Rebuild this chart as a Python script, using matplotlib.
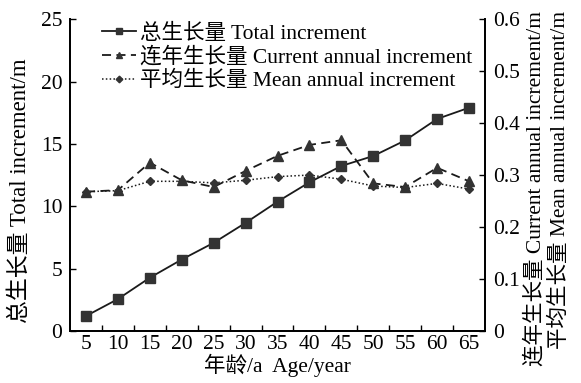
import matplotlib
matplotlib.use("Agg")
import matplotlib.pyplot as plt
import numpy as np

plt.rcParams['font.family'] = ['Liberation Serif', 'Noto Sans CJK SC']
plt.rcParams['font.size'] = 15.5

ages = [5, 10, 15, 20, 25, 30, 35, 40, 45, 50, 55, 60, 65]
total = [1.2, 2.56, 4.27, 5.73, 7.07, 8.67, 10.37, 11.92, 13.23, 14.03, 15.28, 17.0, 17.9]
current = [0.268, 0.271, 0.324, 0.290, 0.277, 0.308, 0.337, 0.358, 0.367, 0.284, 0.277, 0.314, 0.288]
mean = [0.268, 0.270, 0.288, 0.288, 0.285, 0.290, 0.297, 0.300, 0.292, 0.279, 0.276, 0.284, 0.273]

left_ticks = [0, 5, 10, 15, 20, 25]
right_ticks = [0, 0.1, 0.2, 0.3, 0.4, 0.5, 0.6]
right_labels = ['0', '0.1', '0.2', '0.3', '0.4', '0.5', '0.6']

x = np.arange(len(ages))
c = '#1a1a1a'
mc = '#333333'

fig = plt.figure(figsize=(5.81, 3.83), dpi=100)
ax = fig.add_axes([0.1205, 0.1358, 0.7143, 0.8142])
ax2 = ax.twinx()

l1, = ax.plot(x, total, '-', color=c, lw=1.3, marker='s', ms=6.5, mfc=mc, mec=mc)
l2, = ax2.plot(x, current, color=c, lw=1.3, ls=(0, (5, 3)), marker='^', ms=6.5, mfc=mc, mec=mc)
l3, = ax2.plot(x, mean, color=c, lw=1.1, ls=(0, (1, 1.5)), marker='D', ms=4.5, mfc=mc, mec=mc)

ax.set_xlim(-0.5, len(ages) - 0.5)
ax.set_ylim(0, 25)
ax2.set_ylim(0, 0.6)

# tick marks sit between the age classes, labels at the class centres
ax.set_xticks(np.arange(0.5, len(ages) - 1, 1.0))
ax.set_xticklabels([])
ax.set_xticks(x, minor=True)
ax.set_xticklabels([str(a) for a in ages], minor=True)
ax.tick_params(axis='x', which='major', direction='in', length=4, width=1)
ax.tick_params(axis='x', which='minor', length=0, pad=3)

ax.set_yticks(left_ticks)
ax.tick_params(axis='y', direction='in', length=4, width=1, pad=5.5)
ax2.set_yticks(right_ticks)
ax2.set_yticklabels(right_labels)
ax2.tick_params(axis='y', direction='in', length=4, width=1, pad=5.5)

for a in (ax, ax2):
    a.spines['top'].set_visible(False)
    for s in ('left', 'right', 'bottom'):
        a.spines[s].set_linewidth(1.3)

ax.set_xlabel('年龄/a  Age/year', labelpad=0)
ax.set_ylabel('总生长量 Total increment/m', fontsize=16.5)
ax.yaxis.set_label_coords(-0.095, 0.45)
ax2.set_ylabel('连年生长量 Current annual increment/m\n平均生长量 Mean annual increment/m',
               multialignment='right', linespacing=1.25)
ax2.yaxis.set_label_coords(1.097, 0.457)

ax.legend([l1, l2, l3],
          ['总生长量 Total increment', '连年生长量 Current annual increment', '平均生长量 Mean annual increment'],
          loc='upper left', bbox_to_anchor=(0.077, 0.985), frameon=False, handlelength=1.6,
          handletextpad=0.15, labelspacing=0.15, borderaxespad=0, borderpad=0, markerscale=0.75)

plt.savefig('out.png', dpi=100)
